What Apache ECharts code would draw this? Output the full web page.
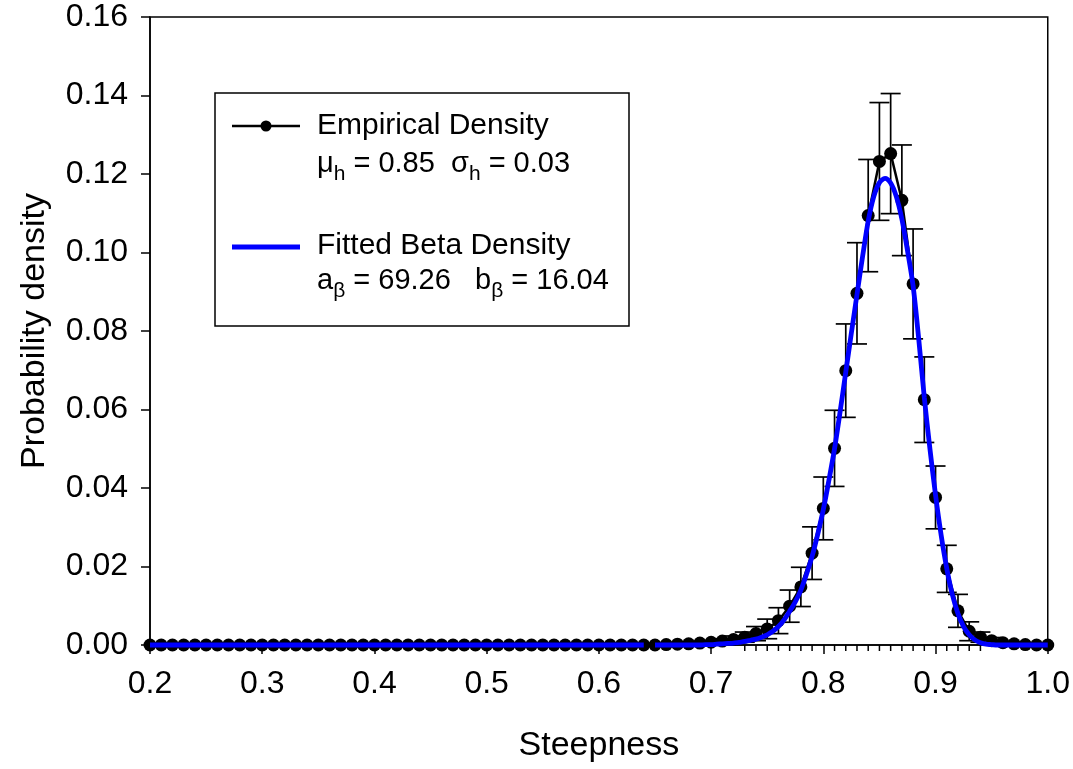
<!DOCTYPE html>
<html>
<head>
<meta charset="utf-8">
<script src="https://cdn.jsdelivr.net/npm/echarts@6/dist/echarts.min.js"></script>
<style>
html,body{margin:0;padding:0;background:#fff;}
#chart{width:1073px;height:769px;}
</style>
</head>
<body>
<div id="chart"></div>
<script>
// ---------------- DATA ----------------
const steepness = [
  0.20,0.21,0.22,0.23,0.24,0.25,0.26,0.27,0.28,0.29,
  0.30,0.31,0.32,0.33,0.34,0.35,0.36,0.37,0.38,0.39,
  0.40,0.41,0.42,0.43,0.44,0.45,0.46,0.47,0.48,0.49,
  0.50,0.51,0.52,0.53,0.54,0.55,0.56,0.57,0.58,0.59,
  0.60,0.61,0.62,0.63,0.64,0.65,0.66,0.67,0.68,0.69,
  0.70,0.71,0.72,0.73,0.74,0.75,0.76,0.77,0.78,0.79,
  0.80,0.81,0.82,0.83,0.84,0.85,0.86,0.87,0.88,0.89,
  0.90,0.91,0.92,0.93,0.94,0.95,0.96,0.97,0.98,0.99,
  1.00
];
const empiricalDensity = [
  0,0,0,0,0,0,0,0,0,0,
  0,0,0,0,0,0,0,0,0,0,
  0,0,0,0,0,0,0,0,0,0,
  0,0,0,0,0,0,0,0,0,0,
  0,0,0,0,0,0,0.0001,0.0002,0.0003,0.0005,
  0.0007,0.0010,0.0014,0.0020,0.0029,0.0041,0.0062,0.0099,0.0148,0.0234,
  0.0348,0.0501,0.0699,0.0896,0.1094,0.1232,0.1252,0.1133,0.0920,0.0625,
  0.0376,0.0194,0.0087,0.0035,0.0020,0.0011,0.0006,0.0003,0.0001,0,
  0
];
const empiricalError = [
  0,0,0,0,0,0,0,0,0,0,
  0,0,0,0,0,0,0,0,0,0,
  0,0,0,0,0,0,0,0,0,0,
  0,0,0,0,0,0,0,0,0,0,
  0,0,0,0,0,0,0,0,0,0,
  0.0004,0.0006,0.0009,0.0013,0.0018,0.0025,0.0033,0.0041,0.0050,0.0067,
  0.0080,0.0097,0.0119,0.0129,0.0143,0.0150,0.0153,0.0141,0.0140,0.0109,
  0.0080,0.0060,0.0042,0.0024,0.0013,0.0008,0,0,0,0,
  0
];
const betaX = [
  0.20,0.64,0.645,0.65,0.69,0.695,
  0.700,0.705,0.710,0.715,0.720,0.725,0.730,0.735,0.740,0.745,
  0.750,0.755,0.760,0.765,0.770,0.775,0.780,0.785,0.790,0.795,
  0.800,0.805,0.810,0.815,0.820,0.825,0.830,0.835,0.840,0.845,
  0.850,0.855,0.860,0.865,0.870,0.875,0.880,0.885,0.890,0.895,
  0.900,0.905,0.910,0.915,0.920,0.925,0.930,0.935,0.940,0.945,
  0.950,0.955,0.960,1.00
];
const betaDensity = [
  0,0,null,0,0,0.0001,
  0.0001,0.0002,0.0003,0.0004,0.0005,0.0007,0.0009,0.0012,0.0015,0.0020,
  0.0026,0.0035,0.0047,0.0064,0.0086,0.0110,0.0140,0.0180,0.0226,0.0282,
  0.0345,0.0420,0.0500,0.0595,0.0695,0.0795,0.0893,0.0990,0.1080,0.1143,
  0.1178,0.1189,0.1177,0.1143,0.1085,0.1005,0.0915,0.0780,0.0630,0.0500,
  0.0382,0.0280,0.0195,0.0128,0.0080,0.0047,0.0026,0.0013,0.0006,0.0002,
  0.0001,0,0,0
];
const minorTickX = [0.73,0.74,0.75,0.76,0.77,0.78,0.79,0.81,0.82,0.83,0.84,0.85,0.86,0.87,0.88,0.89,0.91,0.92,0.93,0.94];
const xTitle = 'Steepness';
const yTitle = 'Probability density';

// ---------------- BUILD ----------------
const FONT = '"Liberation Sans", Arial, sans-serif';
const empData = steepness.map((x, i) => [x, empiricalDensity[i]]);
const errData = [];
steepness.forEach((x, i) => {
  if (empiricalError[i] > 0) errData.push([x, empiricalDensity[i] - empiricalError[i], empiricalDensity[i] + empiricalError[i]]);
});
const betaData = betaX.map((x, i) => [x, betaDensity[i] === null ? '-' : betaDensity[i]]);
const tickData = minorTickX.map(x => [x, 0]);

const chart = echarts.init(document.getElementById('chart'), null, {renderer: 'canvas'});
const option = {
  animation: false,
  backgroundColor: '#fff',
  textStyle: {fontFamily: FONT},
  grid: {left: 150, right: 24, top: 17, bottom: 124, show: true, borderColor: '#000', borderWidth: 1.5, backgroundColor: 'transparent'},
  xAxis: {
    type: 'value', min: 0.2, max: 1.0, interval: 0.1,
    name: xTitle, nameLocation: 'middle', nameGap: 84,
    nameTextStyle: {fontFamily: FONT, fontSize: 34, color: '#000'},
    axisLine: {show: true, onZero: false, lineStyle: {color: '#000', width: 1.5}},
    axisTick: {show: true, inside: false, length: 9, lineStyle: {color: '#000', width: 1.5}},
    axisLabel: {fontFamily: FONT, fontSize: 32, color: '#000', margin: 23, formatter: v => v.toFixed(1)},
    splitLine: {show: false}
  },
  yAxis: {
    type: 'value', min: 0, max: 0.16, interval: 0.02,
    name: yTitle, nameLocation: 'middle', nameGap: 98,
    nameTextStyle: {fontFamily: FONT, fontSize: 34, color: '#000'},
    axisLine: {show: true, lineStyle: {color: '#000', width: 1.5}},
    axisTick: {show: true, inside: false, length: 9, lineStyle: {color: '#000', width: 1.5}},
    axisLabel: {fontFamily: FONT, fontSize: 32, color: '#000', margin: 22, formatter: v => v.toFixed(2)},
    splitLine: {show: false}
  },
  series: [
    {
      type: 'custom', name: 'ticks', clip: false, silent: true, z: 3,
      data: tickData,
      renderItem: (params, api) => {
        const p = api.coord([api.value(0), 0]);
        return {type: 'line', shape: {x1: p[0], y1: p[1], x2: p[0], y2: p[1] + 6}, style: {stroke: '#000', lineWidth: 1.5}};
      }
    },
    {
      type: 'custom', name: 'errors', clip: false, silent: true, z: 4,
      data: errData,
      renderItem: (params, api) => {
        const x = api.value(0);
        const lo = api.coord([x, api.value(1)]);
        const hi = api.coord([x, api.value(2)]);
        const hw = 10;
        const st = {stroke: '#000', lineWidth: 1.7};
        return {type: 'group', children: [
          {type: 'line', shape: {x1: lo[0], y1: lo[1], x2: hi[0], y2: hi[1]}, style: st},
          {type: 'line', shape: {x1: hi[0] - hw, y1: hi[1], x2: hi[0] + hw, y2: hi[1]}, style: st},
          {type: 'line', shape: {x1: lo[0] - hw, y1: lo[1], x2: lo[0] + hw, y2: lo[1]}, style: st}
        ]};
      }
    },
    {
      type: 'line', name: 'Empirical Density', data: empData, clip: false, z: 5,
      symbol: 'circle', symbolSize: 13, showSymbol: true,
      itemStyle: {color: '#000'}, lineStyle: {color: '#000', width: 2.5}
    },
    {
      type: 'line', name: 'Fitted Beta Density', data: betaData, clip: false, z: 6,
      symbol: 'none', smooth: 0.3, connectNulls: false,
      lineStyle: {color: '#0000ff', width: 4.8, cap: 'butt'}
    }
  ],
  graphic: [
    {type: 'rect', z: 100, shape: {x: 215, y: 93, width: 414, height: 233}, style: {fill: '#fff', stroke: '#000', lineWidth: 1.5}},
    {type: 'line', z: 101, shape: {x1: 232, y1: 126, x2: 300, y2: 126}, style: {stroke: '#000', lineWidth: 2.5}},
    {type: 'circle', z: 102, shape: {cx: 266, cy: 126, r: 5.5}, style: {fill: '#000'}},
    {type: 'text', z: 101, x: 317, y: 126, style: {text: 'Empirical Density', font: '30px ' + FONT, fill: '#000', verticalAlign: 'middle'}},
    {type: 'text', z: 101, x: 317, y: 164, style: {
      text: '{m|μ}{s|h}{m| = 0.85  σ}{s|h}{m| = 0.03}', verticalAlign: 'middle', fill: '#000',
      rich: {m: {fontFamily: FONT, fontSize: 29, fill: '#000'}, s: {fontFamily: FONT, fontSize: 21, fill: '#000', padding: [20, 0, 0, 0]}}
    }},
    {type: 'line', z: 101, shape: {x1: 232, y1: 247, x2: 300, y2: 247}, style: {stroke: '#0000ff', lineWidth: 5}},
    {type: 'text', z: 101, x: 317, y: 246, style: {text: 'Fitted Beta Density', font: '30px ' + FONT, fill: '#000', verticalAlign: 'middle'}},
    {type: 'text', z: 101, x: 317, y: 281, style: {
      text: '{m|a}{s|β}{m| = 69.26   b}{s|β}{m| = 16.04}', verticalAlign: 'middle', fill: '#000',
      rich: {m: {fontFamily: FONT, fontSize: 29, fill: '#000'}, s: {fontFamily: FONT, fontSize: 21, fill: '#000', padding: [20, 0, 0, 0]}}
    }}
  ]
};
chart.setOption(option);
</script>
</body>
</html>
